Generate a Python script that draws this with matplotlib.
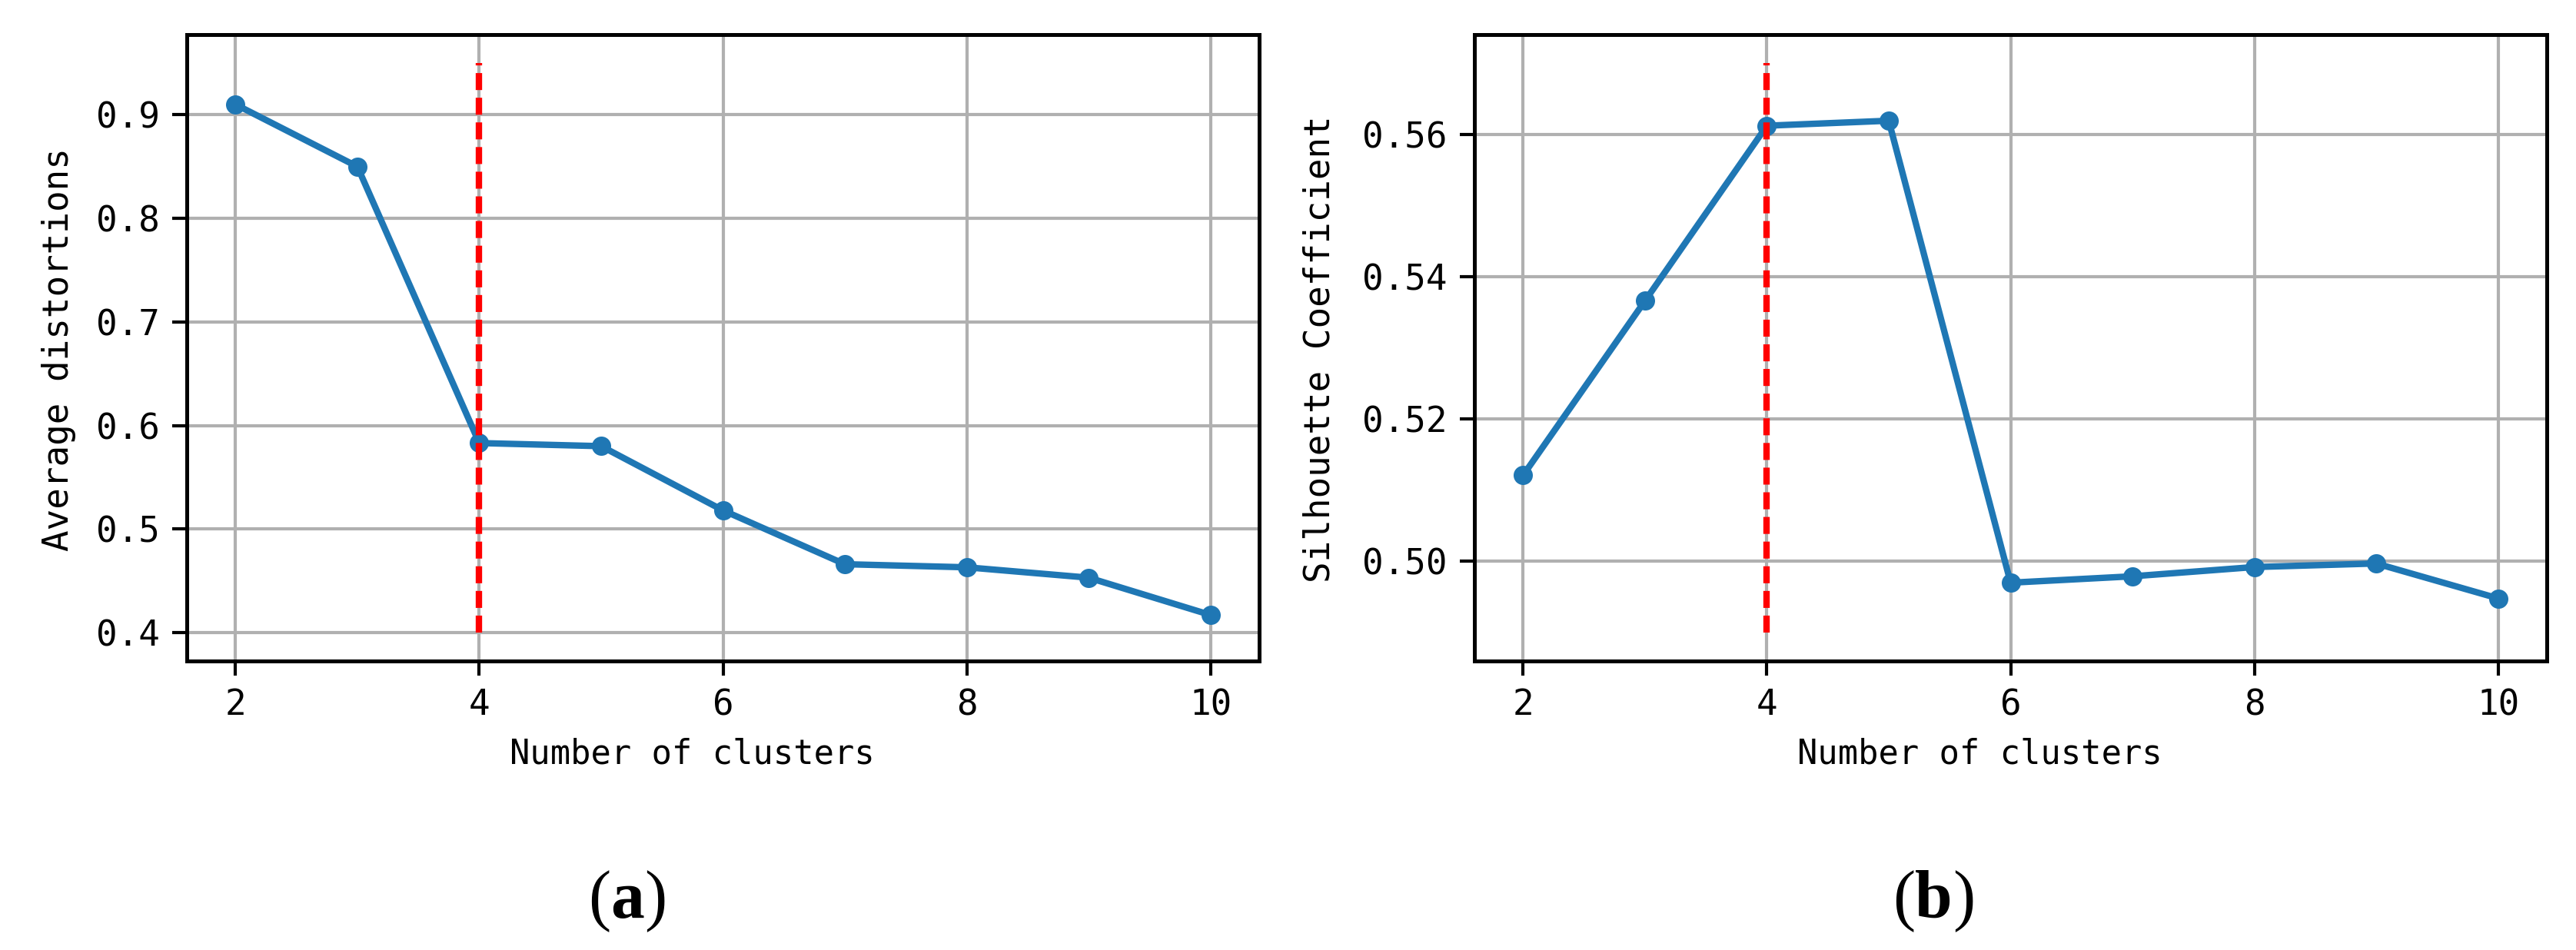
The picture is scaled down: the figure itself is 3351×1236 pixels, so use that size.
import matplotlib
matplotlib.use("Agg")
import matplotlib.pyplot as plt

# ---- data ----
clusters = [2, 3, 4, 5, 6, 7, 8, 9, 10]
avg_distortions = [0.910, 0.850, 0.583, 0.580, 0.518, 0.466, 0.463, 0.453, 0.417]
silhouette = [0.5121, 0.5366, 0.5612, 0.5619, 0.4970, 0.4979, 0.4992, 0.4997, 0.4948]
best_k = 4
vline_a = (0.40, 0.95)
vline_b = (0.49, 0.57)
xticks = [2, 4, 6, 8, 10]
yticks_a = [0.4, 0.5, 0.6, 0.7, 0.8, 0.9]
yticks_b = [0.50, 0.52, 0.54, 0.56]
ylabel_a = "Average distortions"
ylabel_b = "Silhouette Coefficient"
xlabel = "Number of clusters"
panel_labels = ["a", "b"]

W, H = 3351, 1236
DPI = 300
fig = plt.figure(figsize=(W / DPI, H / DPI), dpi=DPI)

mono = ['DejaVu Sans Mono']
serif = ['Liberation Serif']

def make_axes(left_px, x, y, vl, yticks, ylabel, ylim, yfmt):
    ax = fig.add_axes([left_px / W, 1 - 860 / H, 1395 / W, 815 / H])
    ax.plot(x, y, color='#1f77b4', lw=2.0, marker='o', markersize=5, zorder=3)
    ax.vlines(best_k, vl[0], vl[1], colors='red', linestyles=(0, (2.65, 1.2)), lw=2.0, zorder=4)
    ax.set_xlim(1.6, 10.4)
    ax.set_ylim(*ylim)
    ax.set_xticks(xticks)
    ax.set_yticks(yticks)
    ax.set_yticklabels([yfmt.format(v) for v in yticks])
    ax.grid(True, color='#b0b0b0', lw=1.0)
    ax.set_axisbelow(True)
    for s in ax.spines.values():
        s.set_linewidth(1.2)
        s.set_color('black')
    ax.tick_params(length=4.5, width=1.0, pad=4, labelsize=11)
    for lab in ax.get_xticklabels() + ax.get_yticklabels():
        lab.set_family(mono)
    ax.set_xlabel(xlabel, family=mono, fontsize=10.5)
    ax.xaxis.set_label_coords(0.471, -0.122)
    ax.set_ylabel(ylabel, family=mono, fontsize=11, va='center')
    return ax

ax1 = make_axes(243, clusters, avg_distortions, vline_a, yticks_a, ylabel_a,
                (0.3725, 0.9775), "{:.1f}")
ax1.yaxis.set_label_coords(-0.1197, 0.498)
ax2 = make_axes(1918, clusters, silhouette, vline_b, yticks_b, ylabel_b,
                (0.486, 0.574), "{:.2f}")
ax2.yaxis.set_label_coords(-0.144, 0.498)

# panel labels "(a)" / "(b)" with bold letter, regular parentheses
for left_px, lab in zip([765, 2462], panel_labels):
    t1 = fig.text(left_px / W, 1 - 1213 / H, '(', fontsize=21, family=serif,
                  ha='left', va='bottom')
    t2 = fig.text(0, 0, lab, fontsize=21, family=serif, weight='bold',
                  ha='left', va='bottom')
    t2.set_transform(matplotlib.transforms.IdentityTransform())
    a2 = fig.add_artist(matplotlib.text.Annotation(
        lab, xy=(1, 0), xycoords=t1, va='bottom', ha='left',
        fontsize=21, family=serif, weight='bold'))
    t2.remove()
    fig.add_artist(matplotlib.text.Annotation(
        ')', xy=(1, 0), xycoords=a2, va='bottom', ha='left',
        fontsize=21, family=serif))

fig.savefig("out.png", dpi=DPI, facecolor='white')
